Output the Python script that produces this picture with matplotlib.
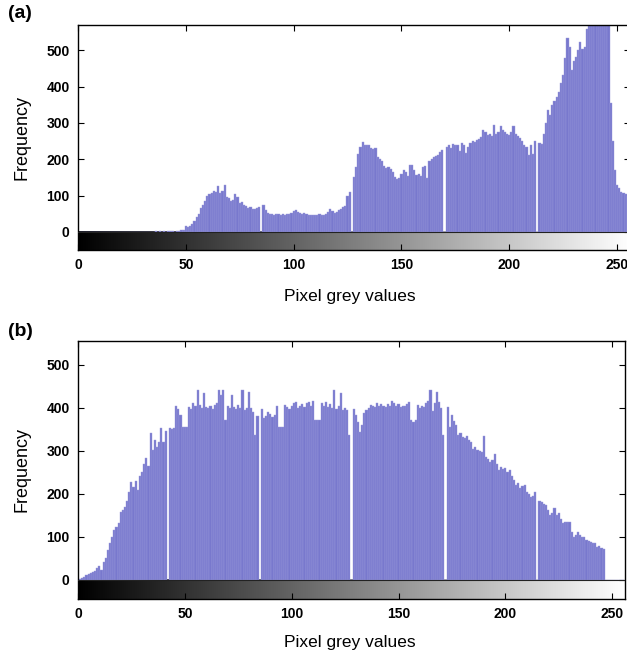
import numpy as np
import matplotlib
matplotlib.use("Agg")
import matplotlib.pyplot as plt

# grey levels 0..255, one bin per level
grey_levels = list(range(256))

# histogram (a) - original image, counts (peak runs off the top)
freq_a = [
    0, 0, 0, 0, 0, 0, 0, 0, 0, 0, 0, 0, 0, 0, 0, 0,
    0, 0, 0, 0, 0, 0, 0, 0, 0, 0, 0, 0, 0, 0, 0, 0,
    0, 0, 0, 0, 2, 0, 2, 0, 3, 0, 2, 3, 2, 0, 3, 3,
    4, 5, 16, 14, 15, 22, 30, 42, 50, 65, 75, 85, 100, 104, 108, 112,
    110, 127, 106, 112, 129, 95, 92, 85, 88, 105, 95, 80, 82, 75, 72, 66,
    68, 64, 62, 66, 68, 0, 74, 60, 53, 48, 50, 46, 48, 50, 47, 48,
    46, 50, 48, 52, 58, 61, 55, 52, 50, 51, 48, 47, 46, 47, 46, 47,
    48, 46, 47, 50, 55, 63, 58, 52, 55, 60, 62, 68, 72, 100, 110, 0,
    150, 180, 215, 235, 247, 240, 238, 240, 232, 228, 230, 205, 200, 195, 182, 176,
    178, 172, 165, 150, 145, 148, 160, 170, 165, 155, 184, 185, 170, 158, 160, 155,
    178, 182, 148, 195, 200, 205, 208, 212, 220, 225, 0, 235, 238, 230, 242, 240,
    238, 222, 245, 240, 218, 235, 245, 250, 248, 252, 255, 262, 280, 275, 268, 270,
    265, 295, 270, 275, 292, 280, 275, 270, 268, 275, 292, 270, 265, 258, 250, 240,
    235, 212, 240, 215, 250, 0, 245, 243, 270, 300, 336, 322, 350, 360, 372, 386,
    410, 432, 480, 533, 510, 446, 470, 483, 500, 524, 505, 510, 560, 600, 600, 600,
    600, 600, 600, 600, 600, 600, 600, 354, 250, 171, 130, 120, 110, 106, 105, 100,
]

# histogram (b) - equalised image
freq_b = [
    0, 2, 4, 6, 10, 12, 15, 17, 20, 28, 31, 23, 40, 50, 70, 85,
    100, 116, 122, 131, 158, 162, 170, 182, 205, 228, 216, 230, 209, 240, 251, 270,
    282, 264, 340, 301, 325, 309, 320, 352, 321, 346, 0, 352, 350, 352, 403, 398,
    382, 354, 354, 354, 402, 398, 410, 405, 442, 406, 400, 433, 402, 400, 405, 398,
    406, 410, 440, 429, 440, 371, 405, 400, 429, 402, 398, 406, 400, 440, 394, 400,
    437, 400, 390, 336, 380, 0, 398, 375, 380, 390, 385, 378, 382, 403, 355, 355,
    355, 406, 402, 398, 405, 410, 413, 400, 405, 408, 402, 410, 413, 405, 416, 371,
    371, 372, 410, 405, 412, 402, 408, 400, 440, 398, 405, 434, 394, 400, 394, 336,
    0, 398, 382, 367, 344, 360, 388, 395, 400, 406, 405, 402, 410, 405, 408, 405,
    402, 408, 405, 415, 410, 405, 408, 402, 405, 405, 408, 413, 371, 367, 372, 406,
    400, 405, 402, 410, 415, 440, 393, 410, 437, 413, 400, 336, 0, 402, 355, 382,
    370, 359, 336, 340, 332, 330, 334, 325, 320, 305, 308, 301, 300, 298, 334, 286,
    280, 274, 278, 292, 270, 255, 262, 258, 259, 250, 255, 240, 232, 220, 225, 213,
    218, 220, 205, 200, 193, 195, 205, 0, 182, 180, 176, 174, 162, 151, 155, 166,
    150, 155, 140, 131, 135, 133, 133, 110, 100, 105, 110, 103, 100, 100, 92, 89,
    88, 85, 86, 77, 78, 74, 72, 0, 0, 0, 0, 0, 0, 0, 0, 0,
]

x_ticks = [0, 50, 100, 150, 200, 250]
y_ticks = [0, 100, 200, 300, 400, 500]

plt.rcParams["font.family"] = ["Liberation Sans", "DejaVu Sans"]

W, H = 627, 657
fig = plt.figure(figsize=(W / 100, H / 100), dpi=100)


# px_axes(left, top, right, bottom) - axes box from pixel coordinates
def px_axes(l, t, r, b):
    return fig.add_axes([l / W, 1 - b / H, (r - l) / W, (b - t) / H])


def draw_hist(ax, freq, ylo, yhi):
    # grey ramp under the zero line
    ramp = np.linspace(0, 1, 256).reshape(1, -1)
    ax.imshow(ramp, cmap="gray", aspect="auto", extent=[0, 256, ylo, 0],
              vmin=0, vmax=1, zorder=1)
    ax.bar(grey_levels, freq, width=1.0, color="#7878cd",
           edgecolor="#9c9cdc", linewidth=0.3, zorder=2)
    ax.axhline(0, color="#222222", linewidth=0.8, zorder=3)
    ax.set_xlim(0, 256)
    ax.set_ylim(ylo, yhi)
    ax.set_xticks(x_ticks)
    ax.set_yticks(y_ticks)
    ax.tick_params(direction="in", top=True, right=True, length=4, width=0.8,
                   labelsize=10, pad=6)
    for lab in ax.get_xticklabels() + ax.get_yticklabels():
        lab.set_fontweight("bold")
    for sp in ax.spines.values():
        sp.set_linewidth(1.0)


ax_a = px_axes(78, 25, 630, 250)
draw_hist(ax_a, freq_a, -50, 570)

ax_b = px_axes(78, 341, 625, 599)
draw_hist(ax_b, freq_b, -45, 555)

for ax, tag, ty, ly, fy in [(ax_a, "(a)", 14, 297, 137), (ax_b, "(b)", 332, 643, 470)]:
    fig.text(8 / W, 1 - ty / H, tag, fontsize=14, fontweight="bold", va="center", ha="left")
    fig.text(350 / W, 1 - ly / H, "Pixel grey values", fontsize=12.5, ha="center", va="center")
    fig.text(22 / W, 1 - fy / H, "Frequency", fontsize=13, rotation=90, ha="center", va="center")

fig.savefig("out.png", dpi=100)
